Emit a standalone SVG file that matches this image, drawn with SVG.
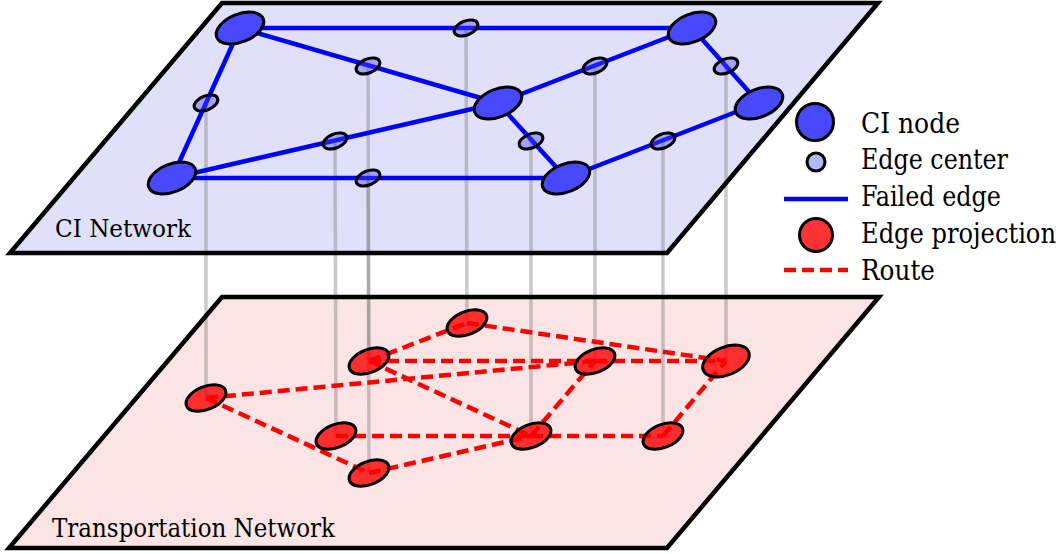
<svg xmlns="http://www.w3.org/2000/svg" width="1064" height="554" viewBox="0 0 1064 554">
  <defs>
    <style>
      .plane-border { fill: none; stroke: #000; stroke-width: 4.5; stroke-linejoin: miter; }
      .drop { stroke: #808080; stroke-opacity: 0.42; stroke-width: 3.5; fill: none; }
      .failed { stroke: #0000ff; stroke-width: 4.5; fill: none; }
      .route { stroke: #ff0000; stroke-width: 4.5; fill: none; stroke-dasharray: 12 6; }
      .ci { fill: #4848ff; stroke: #000; stroke-width: 3; }
      .center { fill: #4848ff; fill-opacity: 0.4; stroke: #000; stroke-width: 3; }
      .proj { fill: #ff0000; fill-opacity: 0.8; stroke: #000; stroke-width: 3; }
      text { font-family: "DejaVu Serif Condensed", "DejaVu Serif", "Liberation Serif", serif; font-stretch: condensed; fill: #000; }
    </style>
  </defs>

  <!-- plane fills -->
  <g id="transport-plane">
    <polygon points="222,297 879,297 667,548 9,548" fill="#fde4e4"/>
  </g>
  <g id="ci-plane">
    <polygon points="222,3 878,3 667,253 10,253" fill="#e0e0fa"/>
  </g>

  <!-- vertical drops from edge centers to their projections -->
  <g id="drops">
    <line class="drop" x1="466" y1="28" x2="467" y2="323"/>
    <line class="drop" x1="368" y1="66" x2="369" y2="361"/>
    <line class="drop" x1="206" y1="103" x2="206" y2="398"/>
    <line class="drop" x1="335" y1="141" x2="336" y2="436"/>
    <line class="drop" x1="368" y1="178" x2="369" y2="473"/>
    <line class="drop" x1="595" y1="66" x2="595" y2="361"/>
    <line class="drop" x1="726" y1="66" x2="726" y2="361"/>
    <line class="drop" x1="663" y1="141" x2="663" y2="436"/>
    <line class="drop" x1="531" y1="141" x2="531" y2="436"/>
  </g>

  <!-- plane borders -->
  <polygon class="plane-border" points="222,297 879,297 667,548 9,548"/>
  <polygon class="plane-border" points="222,3 878,3 667,253 10,253"/>

  <!-- failed edges of the CI network -->
  <g id="failed-edges">
    <line class="failed" x1="240" y1="28" x2="692" y2="28"/>
    <line class="failed" x1="240" y1="28" x2="498" y2="103"/>
    <line class="failed" x1="240" y1="28" x2="172" y2="178"/>
    <line class="failed" x1="172" y1="178" x2="498" y2="103"/>
    <line class="failed" x1="172" y1="178" x2="566" y2="178"/>
    <line class="failed" x1="498" y1="103" x2="566" y2="178"/>
    <line class="failed" x1="498" y1="103" x2="692" y2="28"/>
    <line class="failed" x1="692" y1="28" x2="759" y2="103"/>
    <line class="failed" x1="566" y1="178" x2="759" y2="103"/>
  </g>

  <!-- routes in the transportation network -->
  <g id="routes">
    <line class="route" x1="369" y1="361" x2="467" y2="323"/>
    <line class="route" x1="467" y1="323" x2="726" y2="361"/>
    <line class="route" x1="369" y1="361" x2="595" y2="361"/>
    <line class="route" x1="595" y1="361" x2="726" y2="361"/>
    <line class="route" x1="206" y1="398" x2="595" y2="361"/>
    <line class="route" x1="369" y1="361" x2="531" y2="436"/>
    <line class="route" x1="206" y1="398" x2="369" y2="473"/>
    <line class="route" x1="336" y1="436" x2="531" y2="436"/>
    <line class="route" x1="369" y1="473" x2="531" y2="436"/>
    <line class="route" x1="531" y1="436" x2="595" y2="361"/>
    <line class="route" x1="531" y1="436" x2="663" y2="436"/>
    <line class="route" x1="663" y1="436" x2="726" y2="361"/>
  </g>

  <!-- CI nodes -->
  <g id="ci-node-a"><ellipse class="ci" cx="240" cy="28" rx="25" ry="14" transform="rotate(-22 240 28)"/></g>
  <g id="ci-node-b"><ellipse class="ci" cx="172" cy="178" rx="25" ry="14" transform="rotate(-22 172 178)"/></g>
  <g id="ci-node-c"><ellipse class="ci" cx="498" cy="103" rx="25" ry="14" transform="rotate(-22 498 103)"/></g>
  <g id="ci-node-d"><ellipse class="ci" cx="692" cy="28" rx="25" ry="14" transform="rotate(-22 692 28)"/></g>
  <g id="ci-node-e"><ellipse class="ci" cx="759" cy="103" rx="25" ry="14" transform="rotate(-22 759 103)"/></g>
  <g id="ci-node-f"><ellipse class="ci" cx="566" cy="178" rx="25" ry="14" transform="rotate(-22 566 178)"/></g>

  <!-- edge centers -->
  <g id="center-ad"><ellipse class="center" cx="466" cy="28" rx="12.5" ry="7" transform="rotate(-22 466 28)"/></g>
  <g id="center-ac"><ellipse class="center" cx="368" cy="66" rx="12.5" ry="7" transform="rotate(-22 368 66)"/></g>
  <g id="center-ab"><ellipse class="center" cx="206" cy="103" rx="12.5" ry="7" transform="rotate(-22 206 103)"/></g>
  <g id="center-bc"><ellipse class="center" cx="335" cy="141" rx="12.5" ry="7" transform="rotate(-22 335 141)"/></g>
  <g id="center-bf"><ellipse class="center" cx="368" cy="178" rx="12.5" ry="7" transform="rotate(-22 368 178)"/></g>
  <g id="center-cf"><ellipse class="center" cx="531" cy="141" rx="12.5" ry="7" transform="rotate(-22 531 141)"/></g>
  <g id="center-cd"><ellipse class="center" cx="595" cy="66" rx="12.5" ry="7" transform="rotate(-22 595 66)"/></g>
  <g id="center-de"><ellipse class="center" cx="726" cy="66" rx="12.5" ry="7" transform="rotate(-22 726 66)"/></g>
  <g id="center-fe"><ellipse class="center" cx="663" cy="141" rx="12.5" ry="7" transform="rotate(-22 663 141)"/></g>

  <!-- edge projections -->
  <g id="proj-ad"><ellipse class="proj" cx="467" cy="323" rx="21" ry="11.5" transform="rotate(-22 467 323)"/></g>
  <g id="proj-ac"><ellipse class="proj" cx="369" cy="361" rx="21" ry="11.5" transform="rotate(-22 369 361)"/></g>
  <g id="proj-ab"><ellipse class="proj" cx="206" cy="398" rx="21" ry="11.5" transform="rotate(-22 206 398)"/></g>
  <g id="proj-bc"><ellipse class="proj" cx="336" cy="436" rx="21" ry="11.5" transform="rotate(-22 336 436)"/></g>
  <g id="proj-bf"><ellipse class="proj" cx="369" cy="473" rx="21" ry="11.5" transform="rotate(-22 369 473)"/></g>
  <g id="proj-cd"><ellipse class="proj" cx="595" cy="361" rx="21" ry="11.5" transform="rotate(-22 595 361)"/></g>
  <g id="proj-de"><ellipse class="proj" cx="726" cy="361" rx="24.5" ry="14" transform="rotate(-22 726 361)"/></g>
  <g id="proj-fe"><ellipse class="proj" cx="663" cy="436" rx="21" ry="11.5" transform="rotate(-22 663 436)"/></g>
  <g id="proj-cf"><ellipse class="proj" cx="531" cy="436" rx="21" ry="11.5" transform="rotate(-22 531 436)"/></g>

  <!-- plane labels -->
  <text x="55" y="237" font-size="25" textLength="136" lengthAdjust="spacingAndGlyphs">CI Network</text>
  <text x="52" y="537" font-size="25.5" textLength="283" lengthAdjust="spacingAndGlyphs">Transportation Network</text>

  <!-- legend -->
  <g id="legend">
    <circle class="ci" cx="815" cy="122" r="18.5"/>
    <circle class="center" cx="816" cy="162" r="9"/>
    <line class="failed" x1="784" y1="199" x2="848" y2="199"/>
    <circle class="proj" cx="816" cy="235" r="16.5"/>
    <line class="route" x1="784" y1="270" x2="848" y2="270" stroke-dasharray="10.5 7"/>
    <text x="861" y="133" font-size="27" textLength="99" lengthAdjust="spacingAndGlyphs">CI node</text>
    <text x="861" y="169" font-size="27" textLength="147" lengthAdjust="spacingAndGlyphs">Edge center</text>
    <text x="861" y="206" font-size="27" textLength="140" lengthAdjust="spacingAndGlyphs">Failed edge</text>
    <text x="861" y="243" font-size="27" textLength="195" lengthAdjust="spacingAndGlyphs">Edge projection</text>
    <text x="861" y="280" font-size="27" textLength="74" lengthAdjust="spacingAndGlyphs">Route</text>
  </g>
</svg>
